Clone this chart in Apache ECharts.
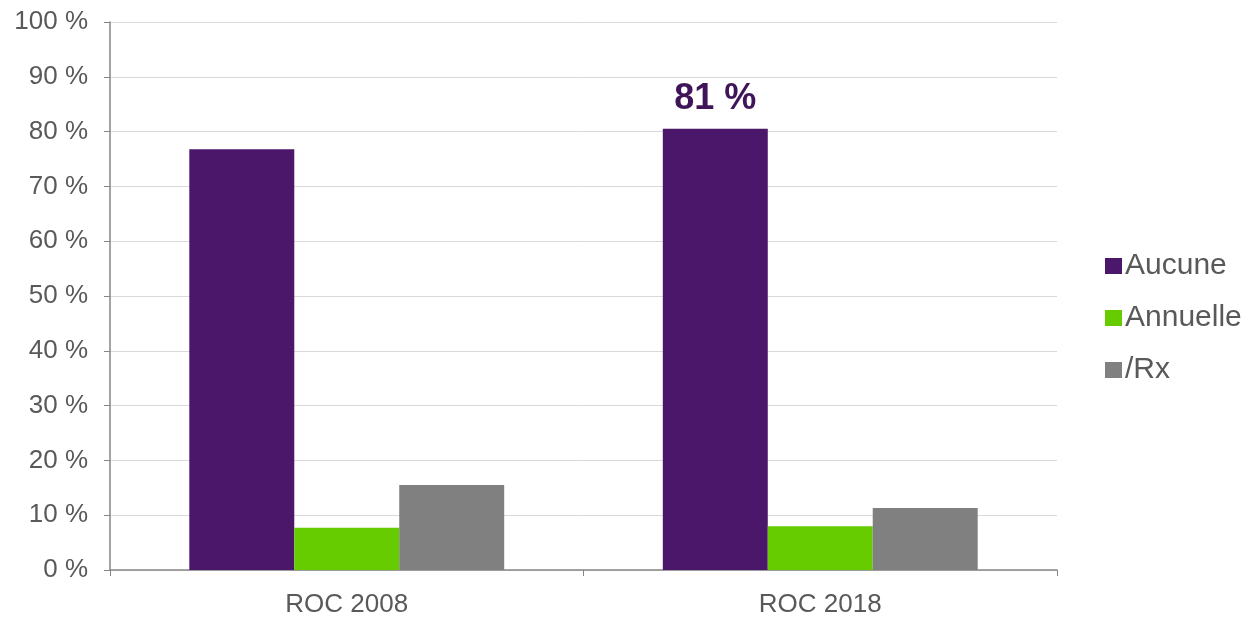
<!DOCTYPE html>
<html>
<head>
<meta charset="utf-8">
<script src="https://cdn.jsdelivr.net/npm/echarts@6/dist/echarts.min.js"></script>
<style>
  html, body { margin: 0; padding: 0; background: #fff; }
  #chart { width: 1252px; height: 618px; }
</style>
</head>
<body>
<div id="chart"></div>
<script>
const categories = ['ROC 2008', 'ROC 2018'];
const aucune = [76.8, 80.5];
const annuelle = [7.7, 8.0];
const rx = [15.5, 11.3];
const yTicks = [0, 10, 20, 30, 40, 50, 60, 70, 80, 90, 100];

const chart = echarts.init(document.getElementById('chart'), null, { renderer: 'canvas' });
const font = 'Liberation Sans, Arial, sans-serif';
const textColor = '#595959';

chart.setOption({
  animation: false,
  textStyle: { fontFamily: font },
  grid: { left: 110, right: 195, top: 22, bottom: 44 },
  legend: {
    orient: 'vertical',
    left: 1100,
    top: 246,
    icon: 'rect',
    itemWidth: 17,
    itemHeight: 16,
    itemGap: 22,
    textStyle: { color: textColor, fontSize: 30, fontFamily: font, padding: [0, 0, 0, -2] },
    data: ['Aucune', 'Annuelle', '/Rx']
  },
  xAxis: {
    type: 'category',
    data: categories,
    axisLine: { lineStyle: { color: '#868686', width: 1.5 } },
    axisTick: { show: true, length: 6, lineStyle: { color: '#868686' } },
    axisLabel: { color: textColor, fontSize: 26, margin: 22, fontFamily: font }
  },
  yAxis: {
    type: 'value',
    min: yTicks[0],
    max: yTicks[yTicks.length - 1],
    interval: 10,
    axisLine: { show: true, lineStyle: { color: '#868686', width: 1.5 } },
    axisTick: { show: true, length: 6, lineStyle: { color: '#868686' } },
    axisLabel: { color: textColor, fontSize: 26, margin: 22, fontFamily: font, formatter: v => v + ' %' },
    splitLine: { lineStyle: { color: '#d9d9d9', width: 1 } }
  },
  series: [
    {
      name: 'Aucune', type: 'bar', barGap: '0%', barCategoryGap: '33.5%',
      itemStyle: { color: '#4a176a' },
      data: aucune.map((v, i) => i === 1 ? {
        value: v,
        label: {
          show: true, position: 'top', distance: 12,
          formatter: () => Math.round(v) + ' %',
          color: '#3f1458', fontSize: 36, fontWeight: 'bold', fontFamily: font
        }
      } : v)
    },
    { name: 'Annuelle', type: 'bar', itemStyle: { color: '#66cc00' }, data: annuelle },
    { name: '/Rx', type: 'bar', itemStyle: { color: '#808080' }, data: rx }
  ]
});
</script>
</body>
</html>
